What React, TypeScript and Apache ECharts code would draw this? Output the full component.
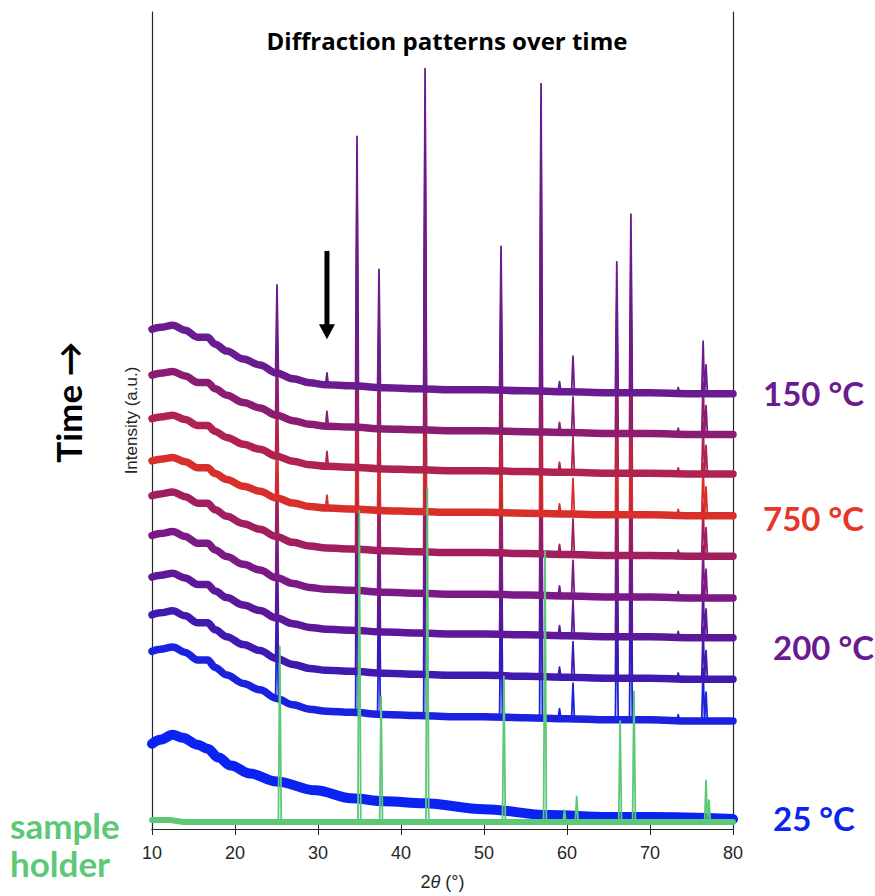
import React, { useEffect, useRef } from "react";
import * as echarts from "echarts";

// ---- Amorphous background of the heated scans ----
// 2θ positions (°) where the background is sampled
const hump2Theta = [10, 11, 12.5, 14, 15.5, 16.7, 17.6, 19, 21, 23, 25, 27, 29, 31, 34, 38, 42, 46, 50, 55, 60, 65, 70, 75, 80];
// background above the high-angle level (a.u.)
const humpProfile = [65, 67, 69, 64, 57, 57, 50, 43, 35, 29, 21, 15, 11, 9, 8, 6, 5, 4, 4, 3, 2, 1, 1, 0, 0];

// ---- Heated scans, latest (top) to earliest (bottom) ----
const scanOffsets = [439, 398, 358, 316, 275, 233, 193, 151, 109];
const scanHumpScale = [1.0, 0.92, 0.86, 0.85, 0.94, 0.97, 0.94, 1.0, 1.08];
const scanColors = ["#6a1b8f", "#8a1d72", "#b0234f", "#d92f2a", "#a11f5e", "#7b1a87", "#5c1899", "#4019b0", "#1a22e0"];

// crystalline reflections of the heated scans
const peak2Theta = [25.06, 34.7, 37.35, 42.9, 52.05, 56.87, 59.1, 60.72, 66.0, 67.7, 73.4, 76.4, 76.75];
const peakHeight = [89, 252, 119, 323, 145, 310, 10, 36, 132, 180, 6, 53, 29];
// weak reflection marked by the arrow, present in the later scans only
const weakPeak2Theta = 31.08;
const weakPeakHeight = [12, 15, 15, 13, 0, 0, 0, 0, 0];

// ---- Scan at 25 °C (amorphous) ----
const roomTemp2Theta = [10, 11, 12.5, 13.7, 15.5, 16.7, 18, 19.5, 21.8, 25, 29.7, 34, 38, 42.8, 50, 57.8, 65, 70, 80];
const roomTempIntensity = [86, 90, 95, 92, 85, 81, 72, 64, 56, 48, 39, 31, 28, 26, 20, 14, 12, 12, 10];
const roomTempColor = "#0a22f2";

// ---- Sample holder ----
const holder2Theta = [10, 12, 14, 80];
const holderBackground = [9, 9, 7, 7];
const holderPeak2Theta = [25.4, 34.98, 37.6, 43.17, 52.4, 57.35, 59.7, 61.17, 66.4, 68.07, 76.75, 77.1];
const holderPeakIntensity = [184, 321, 134, 344, 154, 280, 19, 33, 109, 139, 49, 29];
const holderColor = "#5cc878";

// ---- Annotations ----
const arrowFrom = 583;
const arrowTo = 494;
const tempLabels = [
  { text: "150 °C", color: "#6a1b8f", x: 763, y: 393 },
  { text: "750 °C", color: "#e8352a", x: 763, y: 518 },
  { text: "200 °C", color: "#6a1b8f", x: 773, y: 647 },
  { text: "25 °C", color: "#0a25f0", x: 773, y: 818 },
];

const AXIS_COLOR = "#262626";
const PEAK_HALF_WIDTH = 0.17;

function bgAt(xs: number[], ys: number[], x: number): number {
  for (let i = 0; i < xs.length - 1; i++) {
    if (x >= xs[i] && x <= xs[i + 1]) {
      const t = (x - xs[i]) / (xs[i + 1] - xs[i]);
      return ys[i] + t * (ys[i + 1] - ys[i]);
    }
  }
  return ys[ys.length - 1];
}

// spikes only, each one rising from the background band; gaps between them
function peakSegments(xs: number[], ys: number[], peaks: [number, number][]): (number | null)[][] {
  const pts: (number | null)[][] = [];
  peaks
    .filter(([, h]) => h > 0)
    .sort((a, b) => a[0] - b[0])
    .forEach(([p, h]) => {
      const b = bgAt(xs, ys, p);
      pts.push([p - PEAK_HALF_WIDTH, b], [p, b + h], [p + PEAK_HALF_WIDTH, b], [p + PEAK_HALF_WIDTH + 0.01, null]);
    });
  return pts;
}

function lineSeries(name: string, data: any[], color: string, width: number, smooth = false) {
  return {
    type: "line",
    name,
    data,
    xAxisIndex: 0,
    yAxisIndex: 0,
    showSymbol: false,
    symbol: "none",
    silent: true,
    smooth: smooth ? 0.35 : false,
    smoothMonotone: smooth ? "x" : undefined,
    connectNulls: false,
    lineStyle: { color, width, join: "round", cap: "round" },
  };
}

export default function App() {
  const ref = useRef<HTMLDivElement>(null);

  useEffect(() => {
    const el = ref.current!;
    const chart = echarts.init(el, undefined, { renderer: "svg" });

    const series: any[] = [];

    // 25 °C scan
    const rtData = roomTemp2Theta.map((x, i) => [x, roomTempIntensity[i]]);
    series.push(lineSeries("25 °C", rtData, roomTempColor, 10, true));

    // heated scans, drawn from the earliest (bottom) up to the latest (top)
    for (let k = scanOffsets.length - 1; k >= 0; k--) {
      const bg = humpProfile.map((v) => scanOffsets[k] + v * scanHumpScale[k]);
      const peaks: [number, number][] = peak2Theta.map((p, i) => [p, peakHeight[i]] as [number, number]);
      peaks.push([weakPeak2Theta, weakPeakHeight[k]]);
      const band = hump2Theta.map((x, i) => [x, bg[i]]);
      series.push(lineSeries(`scan ${k + 1} peaks`, peakSegments(hump2Theta, bg, peaks), scanColors[k], 1.8));
      series.push(lineSeries(`scan ${k + 1}`, band, scanColors[k], 7.5, true));
    }

    // sample holder
    const holderPeaks: [number, number][] = holderPeak2Theta.map(
      (p, i) => [p, holderPeakIntensity[i] - bgAt(holder2Theta, holderBackground, p)] as [number, number]
    );
    series.push(lineSeries("sample holder", holder2Theta.map((x, i) => [x, holderBackground[i]]), holderColor, 6, true));
    series.push(lineSeries("sample holder peaks", peakSegments(holder2Theta, holderBackground, holderPeaks), holderColor, 1.8));

    const boxAxisLine = { show: true, lineStyle: { color: AXIS_COLOR, width: 1.2 } };

    const option: any = {
      animation: false,
      backgroundColor: "#ffffff",
      grid: { left: 152, top: 12, width: 581, height: 824 },
      xAxis: [
        {
          type: "value",
          min: 10,
          max: 80,
          interval: 10,
          position: "bottom",
          axisLine: boxAxisLine,
          axisTick: { show: true, inside: true, length: 6, lineStyle: { color: AXIS_COLOR } },
          axisLabel: { fontSize: 18, color: AXIS_COLOR, fontFamily: "Liberation Sans", margin: 15 },
          splitLine: { show: false },
          name: "2{it|θ} (°)",
          nameLocation: "middle",
          nameGap: 44,
          nameTextStyle: {
            fontSize: 18,
            color: AXIS_COLOR,
            fontFamily: "Liberation Sans",
            rich: { it: { fontStyle: "italic", fontSize: 18, color: AXIS_COLOR, fontFamily: "Liberation Sans" } },
          },
        },
        {
          type: "value",
          min: 10,
          max: 80,
          interval: 10,
          position: "top",
          axisLine: boxAxisLine,
          axisTick: { show: true, inside: true, length: 6, lineStyle: { color: AXIS_COLOR } },
          axisLabel: { show: false },
          splitLine: { show: false },
        },
      ],
      yAxis: [
        {
          type: "value",
          min: 0,
          max: 824,
          position: "left",
          axisLine: boxAxisLine,
          axisTick: { show: false },
          axisLabel: { show: false },
          splitLine: { show: false },
          name: "Intensity (a.u.)",
          nameLocation: "middle",
          nameGap: 12,
          nameTextStyle: { fontSize: 17, color: AXIS_COLOR, fontFamily: "Liberation Sans" },
        },
        {
          type: "value",
          min: 0,
          max: 824,
          position: "right",
          axisLine: boxAxisLine,
          axisTick: { show: false },
          axisLabel: { show: false },
          splitLine: { show: false },
        },
      ],
      series,
    };
    chart.setOption(option);

    const [ax, ayFrom] = chart.convertToPixel({ xAxisIndex: 0, yAxisIndex: 0 }, [weakPeak2Theta, arrowFrom]) as number[];
    const [, ayTo] = chart.convertToPixel({ xAxisIndex: 0, yAxisIndex: 0 }, [weakPeak2Theta, arrowTo]) as number[];
    const headLen = 15;
    const headHalf = 8;

    const textEl = (text: string, x: number, y: number, font: string, fill: string, align = "left", rotation = 0) => ({
      type: "text",
      x,
      y,
      rotation,
      silent: true,
      style: {
        text,
        font,
        fill,
        textAlign: align,
        textVerticalAlign: "middle",
        align,
        verticalAlign: "middle",
      },
    });

    const graphic: any[] = [
      textEl("Diffraction patterns over time", 447, 40, "bold 24px 'Open Sans'", "#000000", "center"),
      textEl("Time →", 68, 402, "bold 35px Lato", "#000000", "center", Math.PI / 2),
      ...tempLabels.map((l) => textEl(l.text, l.x, l.y, "bold 33px Lato", l.color)),
      textEl("sample", 10, 825, "bold 35px Lato", holderColor),
      textEl("holder", 10, 863, "bold 35px Lato", holderColor),
      {
        type: "rect",
        silent: true,
        shape: { x: ax - 2.5, y: ayFrom, width: 5, height: ayTo - ayFrom - headLen + 1 },
        style: { fill: "#000000" },
      },
      {
        type: "polygon",
        silent: true,
        shape: {
          points: [
            [ax - headHalf, ayTo - headLen],
            [ax + headHalf, ayTo - headLen],
            [ax, ayTo],
          ],
        },
        style: { fill: "#000000" },
      },
    ];
    chart.setOption({ graphic });

    return () => chart.dispose();
  }, []);

  return (
    <div
      ref={ref}
      style={{ position: "fixed", left: 0, top: 0, width: 875, height: 896, background: "#ffffff" }}
    />
  );
}
